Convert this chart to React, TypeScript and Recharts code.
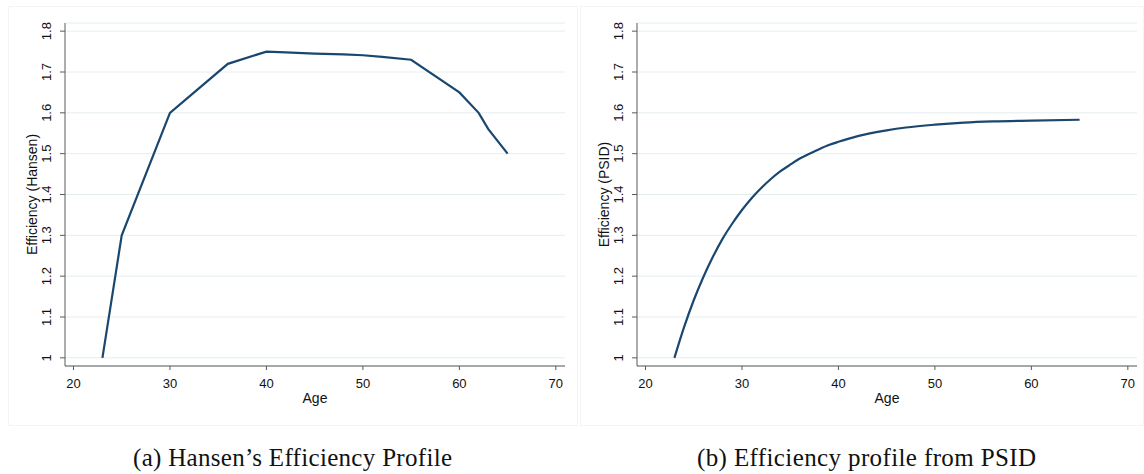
// Two efficiency-by-age profiles, drawn side by side like the Stata figures
import { LineChart, Line, XAxis, YAxis, CartesianGrid, Label } from 'recharts'

const hansenAges = [23, 25, 30, 36, 40, 42, 45, 48, 50, 52, 55, 60, 62, 63, 65]
const hansenValues = [1.0, 1.3, 1.6, 1.72, 1.75, 1.748, 1.745, 1.743, 1.741, 1.737, 1.73, 1.65, 1.6, 1.56, 1.5]

const psidAges = [23, 24, 25, 26, 27, 28, 29, 30, 31, 32, 33, 34, 35, 36, 37, 38, 39, 40, 42, 45, 47, 50, 53, 56, 60, 65]
const psidValues = [
  1.0, 1.075, 1.141, 1.198, 1.248, 1.292, 1.329, 1.362, 1.391, 1.416, 1.438, 1.457, 1.473,
  1.488, 1.5, 1.511, 1.521, 1.529, 1.543, 1.557, 1.564, 1.571, 1.576, 1.579, 1.581, 1.583,
]

const xTicks = [20, 30, 40, 50, 60, 70]
const yTicks = [1, 1.1, 1.2, 1.3, 1.4, 1.5, 1.6, 1.7, 1.8]

const NAVY = '#1a476f'
const AXIS = '#5a5a5a'
const GRID = '#e4eef1'
const SANS = '"Liberation Sans", Arial, sans-serif'
const SERIF = '"Liberation Serif", serif'

const hansenData = hansenAges.map((age, i) => ({ age, eff: hansenValues[i] }))
const psidData = psidAges.map((age, i) => ({ age, eff: psidValues[i] }))

// y tick labels are rotated, as in Stata
const YTick = (props: any) => {
  const { x, y, payload } = props
  return (
    <text transform={`translate(${x - 7.7},${y}) rotate(-90)`} textAnchor="middle" fontSize={13} fill="#111" fontFamily={SANS}>
      {String(payload.value)}
    </text>
  )
}

const XTick = (props: any) => {
  const { x, y, payload } = props
  return (
    <text x={x} y={y + 15.7} textAnchor="middle" fontSize={13} fill="#111" fontFamily={SANS}>
      {payload.value}
    </text>
  )
}

function Panel({ data, yTitle, curve }: { data: any[]; yTitle: string; curve: 'linear' | 'monotone' }) {
  return (
    <LineChart width={572} height={420} data={data} margin={{ top: 23, right: 7, bottom: 24, left: 25 }}>
      <CartesianGrid vertical={false} stroke={GRID} strokeWidth={1} />
      <XAxis
        dataKey="age"
        type="number"
        domain={[19.12, 70.95]}
        ticks={xTicks}
        allowDataOverflow
        height={30}
        stroke={AXIS}
        tickSize={4}
        tickMargin={2}
        tick={<XTick />}
      >
        <Label
          content={(p: any) => {
            const vb = p.viewBox
            return (
              <text x={vb.x + vb.width / 2} y={vb.y + 37} textAnchor="middle" fontSize={14} fill="#111" fontFamily={SANS}>
                Age
              </text>
            )
          }}
        />
      </XAxis>
      <YAxis
        type="number"
        domain={[0.98, 1.82]}
        ticks={yTicks}
        allowDataOverflow
        width={40}
        stroke={AXIS}
        tickSize={5}
        tickMargin={1}
        tick={<YTick />}
      >
        <Label
          content={(p: any) => {
            const vb = p.viewBox
            const ax = vb.x + vb.width
            const cy = vb.y + vb.height / 2
            return (
              <text transform={`translate(${ax - 28},${cy}) rotate(-90)`} textAnchor="middle" fontSize={14} fill="#111" fontFamily={SANS}>
                {yTitle}
              </text>
            )
          }}
        />
      </YAxis>
      <Line type={curve} dataKey="eff" stroke={NAVY} strokeWidth={2.2} dot={false} isAnimationActive={false} />
    </LineChart>
  )
}

export default function App() {
  return (
    <div style={{ position: 'absolute', left: 0, top: 0, width: 1144, height: 474, background: '#fff' }}>
      {/* faint panel frames */}
      <div style={{ position: 'absolute', left: 8, top: 6, width: 570, height: 420, border: '1px solid #f1f5f7', boxSizing: 'border-box' }} />
      <div style={{ position: 'absolute', left: 580, top: 6, width: 564, height: 420, border: '1px solid #f1f5f7', boxSizing: 'border-box' }} />
      <div style={{ position: 'absolute', left: 0, top: 0 }}>
        <Panel data={hansenData} yTitle="Efficiency (Hansen)" curve="linear" />
      </div>
      <div style={{ position: 'absolute', left: 571.7, top: 0 }}>
        <Panel data={psidData} yTitle="Efficiency (PSID)" curve="monotone" />
      </div>
      <svg width={1144} height={474} style={{ position: 'absolute', left: 0, top: 0, pointerEvents: 'none' }}>
        <text x={292.5} y={466} textAnchor="middle" fontSize={25} fontFamily={SERIF} fill="#111" textLength={319} lengthAdjust="spacing">
          (a) Hansen’s Efficiency Profile
        </text>
        <text x={866.5} y={466} textAnchor="middle" fontSize={25} fontFamily={SERIF} fill="#111" textLength={339} lengthAdjust="spacing">
          (b) Efficiency profile from PSID
        </text>
      </svg>
    </div>
  )
}
